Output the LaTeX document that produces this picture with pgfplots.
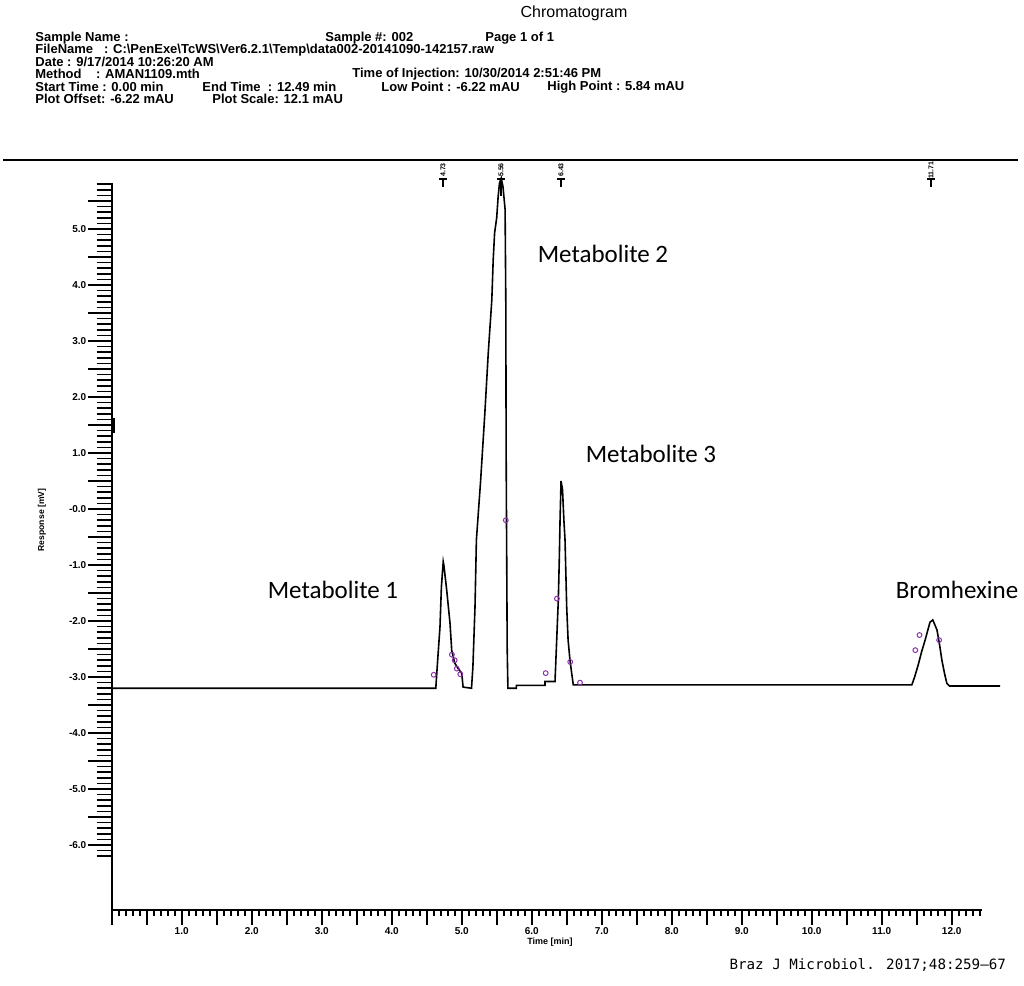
\documentclass[border=0pt]{standalone}
\usepackage{pgfplots}
\pgfplotsset{compat=1.18}
\usepackage{fontspec}
\setmainfont{Liberation Sans}
\newfontfamily\calfont{Carlito}
\newfontfamily\monofont{DejaVu Sans Mono}
\definecolor{mk}{RGB}{140,50,170}
\begin{document}
\begin{tikzpicture}
\path[use as bounding box] (0,0) rectangle (512pt,493pt);
\begin{scope}[shift={(0pt,493pt)}, x=0.5pt, y=-0.5pt]
\node[font=\fontsize{8}{9}\selectfont] at (574,13) {Chromatogram};
\begin{scope}[every node/.style={anchor=west, inner sep=0pt, font=\fontsize{6.5}{7}\selectfont\bfseries}]
\node at (35,38) {Sample Name :};
\node at (325,38) {Sample \#: 002};
\node at (485,38) {Page 1 of 1};
\node at (35,50) {FileName \ \ : C:\textbackslash PenExe\textbackslash TcWS\textbackslash Ver6.2.1\textbackslash Temp\textbackslash data002-20141090-142157.raw};
\node at (35,62) {Date : 9/17/2014 10:26:20 AM};
\node at (35,74) {Method \ \ \ : AMAN1109.mth};
\node at (352,74) {Time of Injection: 10/30/2014 2:51:46 PM};
\node at (35,87) {Start Time : 0.00 min};
\node at (202,87) {End Time \ : 12.49 min};
\node at (381,87) {Low Point : -6.22 mAU};
\node at (547,87) {High Point : 5.84 mAU};
\node at (35,99) {Plot Offset: -6.22 mAU};
\node at (212,99) {Plot Scale: 12.1 mAU};
\end{scope}
\draw[line width=1pt] (3,160) -- (1018,160);
\foreach \X/\T/\L in {443/4.73/187, 501/5.56/196, 561/6.43/187, 931/11.71/187}{
  \node[rotate=90, font=\fontsize{3.5}{4}\selectfont\bfseries, inner sep=0pt] at (\X,170) {\T};
  \draw[line width=0.8pt] (\X-4,179) -- (\X+4,179);
  \draw[line width=0.8pt] (\X,179) -- (\X,\L);
}
\fill (111,418) rectangle (115,433);
\node[rotate=90, font=\fontsize{4.3}{5}\selectfont\bfseries] at (42,520) {Response [mV]};
\node[font=\fontsize{4.5}{5}\selectfont\bfseries] at (550,942) {Time [min]};
\node[font=\calfont\fontsize{12.5}{14}\selectfont] at (603,254) {Metabolite 2};
\node[font=\calfont\fontsize{12.5}{14}\selectfont] at (651,454) {Metabolite 3};
\node[font=\calfont\fontsize{12.5}{14}\selectfont] at (333,590) {Metabolite 1};
\node[font=\calfont\fontsize{12.5}{14}\selectfont] at (957,590) {Bromhexine};
\node[anchor=east, font=\monofont\fontsize{7.1}{8}\selectfont] at (1013,965) {Braz J Microbiol. 2017;48:259–67};
\end{scope}
% y axis ticks (own tick lengths)
\begin{axis}[
  at={(55.85pt,38pt)}, anchor=south west,
  x=35pt, y=28pt,
  xmin=0, xmax=12.43, ymin=-7.16, ymax=5.82,
  axis x line=none, axis y line=left, axis line style={-, line width=1pt},
  tick align=outside,
  tick style={black, line width=0.8pt},
  major tick length=12pt, minor tick length=7.5pt,
  ytick={-6,-5.5,...,5.5},
  yticklabels={-6.0,,-5.0,,-4.0,,-3.0,,-2.0,,-1.0,,-0.0,,1.0,,2.0,,3.0,,4.0,,5.0,},
  minor ytick={-6.2,-6.1,...,5.8},
  yticklabel style={font=\fontsize{5}{6}\selectfont\bfseries, inner sep=0.5pt},
]
\end{axis}
\begin{axis}[
  at={(55.85pt,38pt)}, anchor=south west,
  x=35pt, y=28pt,
  xmin=0, xmax=12.43, ymin=-7.16, ymax=5.82,
  axis x line=bottom, axis y line=none, axis line style={-, line width=1pt},
  clip=false,
  tick align=outside,
  tick style={black, line width=0.8pt},
  major tick length=7.5pt, minor tick length=3pt,
  xtick={0,0.5,...,12},
  xticklabels={,,1.0,,2.0,,3.0,,4.0,,5.0,,6.0,,7.0,,8.0,,9.0,,10.0,,11.0,,12.0},
  minor xtick={0.1,0.2,...,12.4},
  xticklabel style={font=\fontsize{5}{6}\selectfont\bfseries, inner sep=1pt},
]
\addplot[black, line width=0.8pt] coordinates {
(0,-3.2) (4.63,-3.2) (4.65,-2.82) (4.69,-2.1) (4.71,-1.39) (4.736,-0.94) (4.745,-1.0)
(4.786,-1.45) (4.833,-2.04) (4.857,-2.52) (4.90,-2.75) (4.95,-2.85) (5.0,-2.93) (5.02,-3.18)
(5.14,-3.2) (5.16,-2.82) (5.19,-1.75) (5.21,-0.55) (5.27,0.5) (5.33,1.7) (5.38,2.8)
(5.43,3.73) (5.45,4.45) (5.47,4.93) (5.50,5.2) (5.52,5.57) (5.54,5.82) (5.565,5.91)
(5.59,5.75) (5.62,5.35) (5.63,3.7) (5.635,1.0) (5.64,-0.2) (5.65,-2.5) (5.66,-3.2)
(5.78,-3.2) (5.78,-3.15) (6.19,-3.15) (6.19,-3.08) (6.333,-3.08) (6.357,-2.34) (6.38,-1.63)
(6.394,-0.91) (6.405,-0.2) (6.419,0.5) (6.44,0.35) (6.46,-0.2) (6.476,-0.55) (6.5,-1.75)
(6.52,-2.34) (6.547,-2.7) (6.571,-2.93) (6.594,-3.14) (11.43,-3.14) (11.47,-3.0)
(11.52,-2.79) (11.57,-2.55) (11.62,-2.34) (11.69,-2.02) (11.73,-1.98) (11.79,-2.16)
(11.83,-2.45) (11.86,-2.70) (11.90,-2.95) (11.93,-3.11) (11.97,-3.16) (12.69,-3.16)
};
\addplot[only marks, mark=o, mark size=1.2pt, color=mk, mark options={line width=0.5pt}] coordinates {
(4.6,-2.96) (4.86,-2.6) (4.9,-2.7) (4.93,-2.85) (4.98,-2.95) (5.63,-0.2) (6.2,-2.93)
(6.36,-1.6) (6.55,-2.73) (6.69,-3.1) (11.48,-2.52) (11.54,-2.25) (11.82,-2.34)
};
\end{axis}
\end{tikzpicture}
\end{document}
